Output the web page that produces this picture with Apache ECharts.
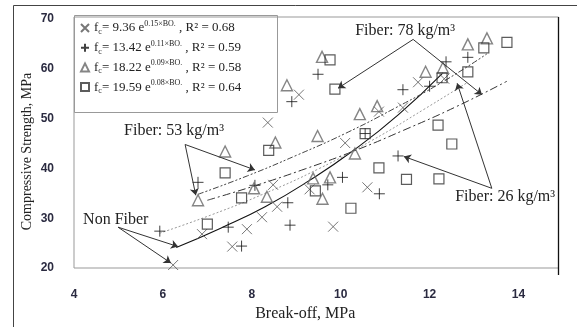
<!DOCTYPE html>
<html><head><meta charset="utf-8">
<script src="https://cdn.jsdelivr.net/npm/echarts@6/dist/echarts.min.js"></script>
<style>html,body{margin:0;padding:0;background:#fff}#c{width:577px;height:327px}</style>
</head><body><div id="c"></div>
<script>
// ---- data ----
const xTicks = [4, 6, 8, 10, 12, 14];
const yTicks = [20, 30, 40, 50, 60, 70];

// Non Fiber (x marker)
const nonFiberX = [6.23, 6.88, 7.56, 7.89, 8.23, 8.48, 8.57, 8.36, 9.06, 9.30, 9.83, 10.10, 10.60, 10.86, 11.40, 11.74, 12.33];
const nonFiberY = [20.6, 26.8, 24.3, 27.8, 30.2, 36.7, 32.3, 49.2, 54.8, 35.8, 28.3, 45.1, 36.2, 51.4, 52.2, 57.3, 58.0];
// Fiber 26 kg/m3 (+ marker)
const fiber26X = [5.93, 6.79, 7.47, 7.77, 8.07, 8.81, 8.86, 8.90, 9.49, 9.71, 10.04, 10.55, 10.87, 11.29, 11.40, 12.00, 12.37, 12.86];
const fiber26Y = [27.4, 37.2, 28.2, 24.4, 36.6, 33.1, 28.6, 53.4, 58.9, 36.7, 38.2, 47.0, 34.9, 42.5, 55.8, 56.5, 61.4, 62.3];
// Fiber 53 kg/m3 (triangle marker)
const fiber53X = [6.79, 7.40, 8.05, 8.34, 8.53, 8.79, 9.38, 9.48, 9.58, 9.59, 9.76, 10.32, 10.43, 10.82, 11.91, 12.30, 12.86, 13.29];
const fiber53Y = [33.6, 43.4, 36.0, 34.3, 45.2, 56.7, 38.0, 46.5, 62.4, 33.9, 38.2, 43.0, 50.9, 52.5, 59.4, 60.2, 64.9, 66.1];
// Fiber 78 kg/m3 (square marker)
const fiber78X = [7.00, 7.40, 7.77, 8.38, 9.43, 9.76, 9.87, 10.23, 10.55, 10.86, 11.48, 12.19, 12.21, 12.28, 12.50, 12.86, 13.22, 13.74];
const fiber78Y = [28.8, 39.1, 34.1, 43.6, 35.5, 61.8, 55.9, 32.0, 47.0, 40.1, 37.8, 48.7, 37.9, 58.2, 44.9, 59.4, 64.2, 65.3];

// trend lines as drawn in the picture
const nonFiberFitX = [6.3, 7.3, 8.3, 9.3, 10.3, 11.3, 12.3];
const nonFiberFitY = [24.1, 28.0, 32.3, 37.6, 43.7, 50.8, 59.2];
const fiber26FitX = [5.93, 7.1, 8.3, 9.5, 10.7, 11.9, 12.86];
const fiber26FitY = [27.0, 30.7, 35.0, 39.9, 45.6, 52.0, 57.3];
const fiber53FitX = [6.79, 7.9, 9.0, 10.1, 11.2, 12.3, 13.29];
const fiber53FitY = [34.8, 38.5, 42.6, 47.0, 52.0, 57.4, 63.0];
const fiber78FitX = [7.0, 8.1, 9.2, 10.3, 11.4, 12.6, 13.74];
const fiber78FitY = [33.6, 36.6, 39.9, 43.5, 47.6, 52.4, 57.5];

// legend equations
const legendNames = ['nf', 'f26', 'f53', 'f78'];
const legendCoef = ['9.36', '13.42', '18.22', '19.59'];
const legendExp = ['0.15×BO.', '0.11×BO.', '0.09×BO.', '0.08×BO.'];
const legendR2 = ['0.68', '0.59', '0.58', '0.64'];

// annotations
const noteTexts = ['Fiber: 78 kg/m³', 'Fiber: 53 kg/m³', 'Non Fiber', 'Fiber: 26 kg/m³'];
const noteX = [11.45, 6.25, 4.94, 13.70];
const noteY = [67.7, 47.5, 29.6, 34.3];
const arrowFrom = [[11.63, 65.9], [11.63, 65.9], [6.50, 44.8], [6.50, 44.8], [4.99, 28.2], [4.99, 28.2], [13.40, 36.0], [13.40, 36.0]];
const arrowTo = [[9.94, 56.1], [13.18, 54.8], [6.74, 34.6], [8.07, 39.7], [6.34, 24.3], [6.18, 21.0], [11.42, 42.4], [12.62, 57.1]];

const zip = (a, b) => a.map((v, i) => [v, b[i]]);
const serif = 'Liberation Serif, Times New Roman, serif';
const sans = 'Liberation Sans, Arial, sans-serif';

const chart = echarts.init(document.getElementById('c'), null, {renderer: 'canvas'});

const richLegend = {
  n: {fontFamily: serif, fontSize: 13, color: '#222', lineHeight: 16},
  sub: {fontFamily: serif, fontSize: 8, color: '#222', lineHeight: 9, verticalAlign: 'bottom'},
  sup: {fontFamily: serif, fontSize: 8, color: '#222', lineHeight: 9, verticalAlign: 'top'}
};

function scatter(name, data, symbol, size, color, bw) {
  return {
    name, type: 'scatter', data, symbol, symbolSize: size,
    itemStyle: {color: 'rgba(0,0,0,0)', borderColor: color, borderWidth: bw},
    emphasis: {disabled: true}, z: 3
  };
}
function fit(x, y, color, type, width) {
  return {
    type: 'line', data: zip(x, y), smooth: true, showSymbol: false, silent: true,
    lineStyle: {color, type, width}, z: 2
  };
}

const mainFit = fit(nonFiberFitX, nonFiberFitY, '#111', 'solid', 1.1);
mainFit.markLine = {
  silent: true, symbol: ['none', 'arrow'], symbolSize: 7,
  lineStyle: {color: '#333', type: 'solid', width: 1},
  itemStyle: {color: '#333'},
  label: {show: false},
  data: arrowFrom.map((f, i) => [{coord: f}, {coord: arrowTo[i]}])
};
mainFit.markPoint = {
  silent: true, symbol: 'rect', symbolSize: 1,
  itemStyle: {color: 'rgba(0,0,0,0)'},
  label: {show: true, position: 'inside', fontFamily: serif, fontSize: 16, color: '#222'},
  data: noteTexts.map((t, i) => ({coord: [noteX[i], noteY[i]], label: {formatter: t}}))
};

chart.setOption({
  animation: false,
  backgroundColor: '#fff',
  grid: {left: 74, right: 18.5, top: 17, bottom: 52, show: true, borderColor: '#999', borderWidth: 1},
  xAxis: {
    type: 'value', min: 4, max: 14.9, interval: 2,
    axisLine: {show: false}, axisTick: {show: false}, splitLine: {show: false},
    axisLabel: {margin: 21, fontFamily: sans, fontSize: 12, fontWeight: 'bold', color: '#2a2a40',
      formatter: v => xTicks.includes(v) ? String(v) : ''},
    name: 'Break-off, MPa', nameLocation: 'middle', nameGap: 38, nameMoveOverlap: false,
    nameTextStyle: {fontFamily: serif, fontSize: 16, color: '#222', padding: [0, 22, 0, 0]}
  },
  yAxis: {
    type: 'value', min: 20, max: 70.4, interval: 10,
    axisLine: {show: false}, axisTick: {show: false}, splitLine: {show: false},
    axisLabel: {margin: 20, fontFamily: sans, fontSize: 12, fontWeight: 'bold', color: '#2a2a40',
      formatter: v => yTicks.includes(v) ? String(v) : ''},
    name: 'Compressive Strength, MPa', nameLocation: 'middle', nameGap: 40, nameMoveOverlap: false,
    nameTextStyle: {fontFamily: serif, fontSize: 14, color: '#222', padding: [0, 18, 0, 0]}
  },
  legend: {
    data: legendNames, orient: 'vertical', left: 80, top: 20, itemGap: 3.7,
    itemWidth: 8, itemHeight: 8, padding: 0,
    textStyle: {rich: richLegend},
    formatter: name => {
      const i = legendNames.indexOf(name);
      return '{n|f}{sub|c}{n|= ' + legendCoef[i] + ' e}{sup|' + legendExp[i] + '}{n| , R² = ' + legendR2[i] + '}';
    }
  },
  graphic: [
    {type: 'line', shape: {x1: 13.5, y1: 5.5, x2: 577, y2: 5.5}, style: {stroke: '#444', lineWidth: 1}, silent: true},
    {type: 'line', shape: {x1: 13.5, y1: 5.5, x2: 13.5, y2: 327}, style: {stroke: '#444', lineWidth: 1}, silent: true},
    {type: 'line', shape: {x1: 558.5, y1: 17, x2: 558.5, y2: 275}, style: {stroke: '#111', lineWidth: 1.3}, silent: true, z: 10},
    {type: 'rect', shape: {x: 74.5, y: 15.5, width: 203, height: 97}, style: {fill: 'none', stroke: '#999', lineWidth: 1}, silent: true}
  ],
  series: [
    mainFit,
    fit(fiber26FitX, fiber26FitY, '#9a9a9a', [2, 2], 1),
    fit(fiber53FitX, fiber53FitY, '#444', [6, 2, 2, 2, 2, 2], 1),
    fit(fiber78FitX, fiber78FitY, '#333', [8, 3, 2, 3], 1),
    scatter('nf', zip(nonFiberX, nonFiberY), 'path://M0,0L10,10M10,0L0,10', 10, '#555', 1),
    scatter('f26', zip(fiber26X, fiber26Y), 'path://M5,0L5,10M0,5L10,5', 11, '#111', 1),
    scatter('f53', zip(fiber53X, fiber53Y), 'triangle', 11, '#666', 1.4),
    scatter('f78', zip(fiber78X, fiber78Y), 'rect', 10, '#333', 1.2)
  ]
});
</script>
</body></html>
